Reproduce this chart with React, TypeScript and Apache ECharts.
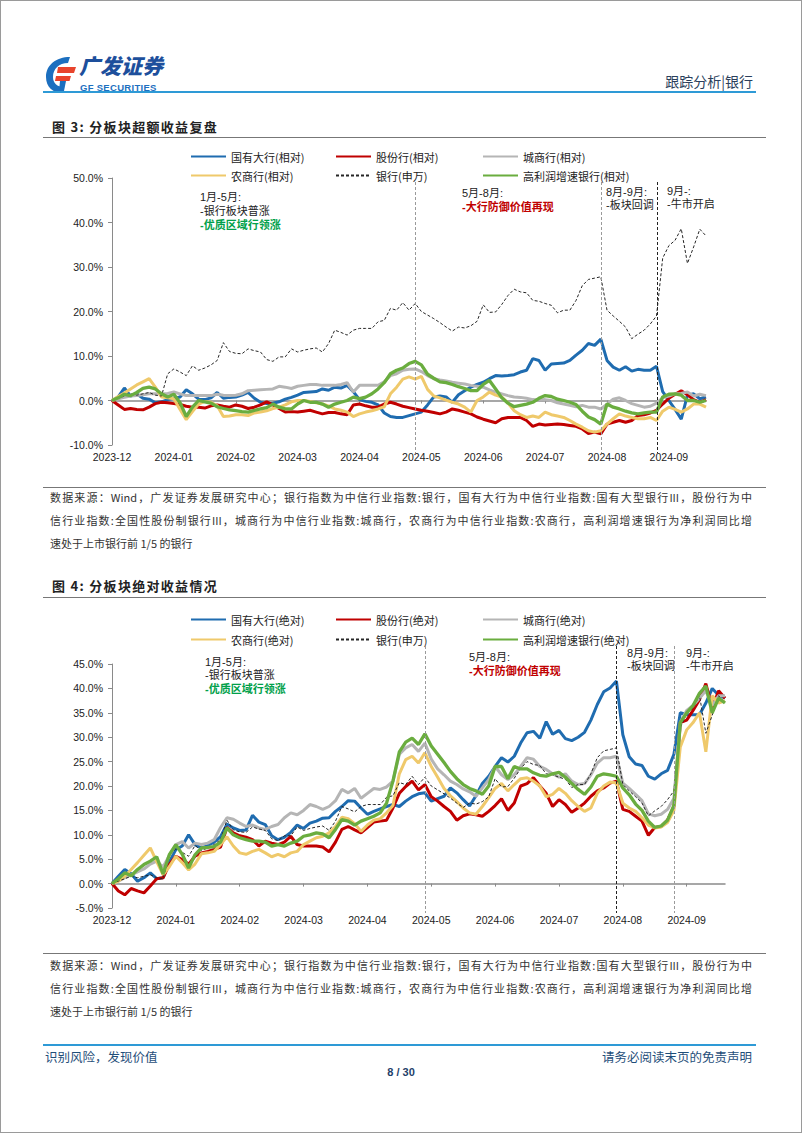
import React, { useEffect, useRef } from "react";
import * as echarts from "echarts";

// ---------------- data ----------------
const monthLabels = ["2023-12", "2024-01", "2024-02", "2024-03", "2024-04", "2024-05", "2024-06", "2024-07", "2024-08", "2024-09"];
const POINTS = 97;
const categoryKeys = Array.from({ length: POINTS }, (_, i) => String(i));

const namesRel = ["国有大行(相对)", "股份行(相对)", "城商行(相对)", "农商行(相对)", "银行(申万)", "高利润增速银行(相对)"];
const namesAbs = ["国有大行(绝对)", "股份行(绝对)", "城商行(绝对)", "农商行(绝对)", "银行(申万)", "高利润增速银行(绝对)"];

const bankIndex = [
  0, 0.5, 1.0, 1.5, 1.2, 1.5, 1.8, 1.2, 1.0, 6.0,
  7.1, 6.4, 5.6, 7.8, 6.8, 7.3, 8.0, 9.0, 13.0, 11.0,
  10.6, 10.5, 11.6, 11.2, 10.9, 9.2, 8.8, 9.8, 9.8, 11.6,
  10.9, 11.3, 11.6, 11.8, 10.9, 12.8, 15.8, 15.3, 14.7, 15.8,
  16.2, 16.2, 16.2, 17.7, 18.0, 20.7, 20.3, 22.0, 20.3, 21.8,
  20.0, 19.2, 18.4, 17.5, 16.5, 15.6, 16.5, 16.3, 16.8, 17.8,
  21.5, 19.8, 19.9, 21.6, 23.6, 25.0, 24.4, 24.2, 22.5, 22.3,
  21.8, 21.4, 19.7, 20.3, 20.3, 22.5, 25.8, 27.2, 27.5, 27.8,
  20.3, 19.0, 17.8, 16.5, 13.9, 14.9, 15.8, 17.2, 19.0, 32.0,
  34.8, 36.0, 38.6, 30.8, 34.5, 38.5, 37.0,
];

// chart 1: relative
const relBig = [
  0, 0.8, 2.8, 1.0, 1.5, 0.5, 0.3, -0.5, -0.3, 0.2,
  0.5, 0.8, 2.4, 1.5, 0.3, 0.2, 0.6, 1.8, 0.5, 0.7,
  0.8, 1.2, 1.8, 0.5, -0.4, -0.7, -0.6, -0.3, 0.3, 0.7,
  1.2, 1.8, 1.9, 2.0, 2.6, 2.3, 3.0, 2.8, 3.4, 2.0,
  0.2, -0.2, -0.4, -1.0, -2.8, -3.6, -3.8, -3.8, -3.4, -3.0,
  -2.6, -1.0, 0.8, 1.0, 0.8, -0.4, 1.3, 2.2, 3.0, 3.6,
  4.1, 4.9, 5.6, 5.5, 5.6, 5.8, 6.4, 6.8, 9.4, 9.0,
  6.8, 8.2, 8.3, 8.4, 9.0, 10.2, 11.3, 12.8, 12.4, 13.8,
  9.0, 7.5, 6.8, 7.6, 6.6, 7.0, 6.8, 6.8, 7.7, 2.0,
  0.0, -2.0, -4.2, 1.2, 1.5, 0.4, 0.8,
];
const relJoint = [
  0, -1.0, -2.0, -1.8, -2.0, -2.1, -1.5, -0.7, -0.4, -0.5,
  -0.7, -0.9, -1.3, -1.5, -1.5, -1.7, -1.2, -1.0, -1.3, -1.5,
  -1.0, -1.3, -1.8, -1.5, -1.0, -0.3, -1.0, -1.8, -2.6, -2.5,
  -2.6, -2.4, -2.2, -2.6, -3.0, -2.7, -2.7, -3.0, -3.2, -1.0,
  -0.8, -1.2, -1.5, -1.5, -0.8, -0.4, -0.8, -1.3, -1.6, -1.9,
  -2.2, -2.4, -2.7, -3.0, -2.6, -1.9, -2.2, -2.6, -3.0, -3.7,
  -4.2, -4.6, -5.0, -4.1, -3.8, -3.8, -3.8, -4.5, -5.8, -5.3,
  -5.5, -5.4, -5.3, -5.4, -5.6, -5.8, -6.4, -7.4, -7.1, -7.5,
  -5.3, -4.9, -4.5, -4.9, -4.5, -3.4, -3.2, -2.8, -2.2, -0.8,
  0.5, 1.4, 2.2, 1.3, 0.2, -0.4, 0.2,
];
const relCity = [
  0, 0.4, 0.7, 1.0, 1.1, 1.3, 1.5, 1.5, 1.5, 1.6,
  1.9, 1.5, 1.1, 1.1, 1.1, 1.1, 1.1, 1.4, 1.2, 1.1,
  1.2, 1.5, 2.2, 2.3, 2.4, 2.5, 2.6, 3.2, 3.0, 2.7,
  3.2, 3.4, 3.6, 3.6, 3.4, 3.4, 3.4, 3.6, 4.0, 1.9,
  3.4, 3.4, 3.4, 3.4, 4.2, 5.6, 6.0, 6.8, 7.0, 7.1,
  6.5, 5.6, 4.9, 4.6, 4.4, 4.1, 3.9, 3.7, 3.4, 3.2,
  3.0, 2.4, 1.9, 1.5, 1.1, 0.8, 0.7, 0.5, 0.2, 0.1,
  0.2, 0.0, -0.5, -0.8, -1.1, -1.4, -1.1, -1.5, -1.5, -1.9,
  -0.8, 0.3, 0.6, 0.0, -0.7, -1.1, -1.5, -1.3, -0.6, 0.6,
  1.0, 1.5, 1.6, 1.9, 1.0, 1.4, 1.1,
];
const relRural = [
  0, 0.9, 1.7, 2.6, 3.5, 4.2, 4.9, 3.0, 0.8, 0.6,
  0.4, -2.0, -4.3, -2.5, -0.8, -0.2, -0.4, -1.2, -3.6, -3.5,
  -3.2, -3.2, -3.4, -2.8, -2.6, -2.3, -1.8, -1.5, -1.0, -0.3,
  0.0, 0.0, -0.2, -0.5, -0.8, -1.2, -1.9, -2.2, -2.6, -3.6,
  -3.0, -2.6, -2.3, -1.9, -1.4, 1.5, 3.0, 4.8, 5.3, 4.8,
  5.4, 2.5, 1.0, 0.6, 0.1, -0.4, -0.8, -1.5, -2.6, 0.0,
  0.8, 1.9, 1.2, 0.8, -0.6, -2.3, -3.2, -3.8, -3.5, -3.8,
  -2.6, -3.2, -3.5, -3.8, -4.5, -5.3, -6.0, -6.8, -7.1, -6.8,
  -5.3, -4.1, -3.0, -3.5, -3.8, -4.1, -4.1, -3.8, -4.5, -2.4,
  -1.5, -2.0, -2.6, -1.9, -0.8, -0.8, -1.5,
];
const relGrowth = [
  0, 0.6, 1.4, 1.1, 1.8, 2.7, 3.0, 2.6, 1.5, 0.8,
  1.4, -0.5, -3.6, -1.5, 0.0, -0.3, -0.6, -1.4, -1.8, -2.1,
  -2.3, -2.5, -2.6, -2.2, -1.9, -1.6, -0.8, -1.5, -1.9, -1.9,
  -0.8, 0.0, -0.4, -0.4, -0.8, -1.5, -0.8, -0.4, 0.0, 0.75,
  0.4, 0.75, 1.5, 2.6, 4.0, 6.0, 6.8, 7.3, 8.3, 8.8,
  8.0, 5.9, 5.0, 4.2, 4.0, 3.6, 3.1, 2.7, 2.2, 2.2,
  3.6, 4.5, 2.6, 0.6, -0.6, -1.4, -1.1, -0.8, -0.4, 0.5,
  1.1, 0.9, 0.3, 0.0, -0.4, -0.9, -2.4, -3.7, -4.3, -5.3,
  -0.8, -1.5, -1.9, -2.4, -2.8, -3.0, -2.8, -2.6, -2.6, 0.8,
  1.4, 1.5, 1.2, 0.0, 0.0, -0.4, 0.0,
];

// chart 2: absolute
const absBig = [
  0, 1.5, 2.9, 2.0, 0.5, 1.2, 2.2, 1.0, 1.2, 4.5,
  7.0, 7.7, 10.0, 8.0, 7.3, 7.8, 8.5, 9.6, 12.2, 11.4,
  10.9, 11.0, 14.0, 12.6, 12.1, 9.8, 9.0, 9.5, 10.5, 12.0,
  11.3, 12.4, 12.8, 13.4, 13.5, 14.8, 15.8, 17.0, 16.9, 15.5,
  14.2, 14.8, 15.3, 15.8, 16.2, 15.8, 16.9, 17.8, 18.4, 18.6,
  16.9, 17.4, 17.9, 19.6, 18.6, 17.2, 15.9, 18.0, 20.5, 22.0,
  24.0, 25.8, 24.9, 26.1, 28.8, 30.9, 31.2, 29.8, 33.2, 30.6,
  31.4, 29.7, 29.3, 30.0, 31.0, 33.5, 36.7, 39.3, 40.1, 41.5,
  30.5, 26.0, 24.5, 24.2, 22.0, 21.4, 22.5, 23.2, 26.5, 35.0,
  34.6, 34.6, 34.6, 37.0, 40.0, 38.6, 38.0,
];
const absJoint = [
  0, -1.5, -2.3, -1.0, -1.5, -1.9, -0.5, 1.0, 1.2, 4.0,
  5.6, 4.9, 4.0, 5.6, 6.3, 6.6, 7.0, 7.5, 11.5, 10.4,
  9.8, 9.5, 9.0, 7.7, 8.7, 8.3, 8.0, 8.5, 9.7, 8.0,
  7.7, 7.7, 7.7, 7.5, 6.5, 8.5, 11.1, 11.7, 11.0, 10.4,
  11.5, 12.6, 12.8, 13.0, 15.5, 18.5, 19.9, 21.0, 19.2, 20.3,
  17.8, 16.9, 15.8, 14.8, 13.0, 13.9, 14.3, 14.1, 13.8, 14.8,
  16.0, 17.4, 15.0, 16.5, 20.0, 20.5, 21.7, 20.0, 18.5, 15.8,
  17.2, 16.2, 14.6, 15.5, 16.5, 17.9, 19.0, 19.6, 20.6, 21.0,
  15.2, 14.8, 13.8, 12.8, 9.9, 11.5, 11.7, 13.0, 15.8, 33.0,
  33.5, 35.5, 37.7, 41.0, 36.0, 39.5, 38.0,
];
const absCity = [
  0, 0.5, 1.2, 1.8, 2.4, 3.0, 4.0, 4.6, 3.4, 5.8,
  8.0, 8.6, 7.3, 8.3, 8.0, 8.3, 9.0, 11.5, 13.5, 13.2,
  12.4, 11.7, 12.0, 11.4, 11.1, 11.7, 12.1, 13.5, 14.5, 14.1,
  15.0, 16.2, 15.8, 15.2, 15.8, 17.0, 19.3, 18.6, 19.5, 17.5,
  18.5, 19.5, 19.3, 19.8, 21.0, 26.5, 27.8, 28.5, 27.1, 28.8,
  25.5, 23.5, 22.3, 21.0, 20.3, 19.4, 18.8, 17.9, 19.6, 21.3,
  24.0, 22.3, 21.3, 22.3, 24.0, 25.8, 25.5, 24.0, 23.4, 22.5,
  21.8, 22.5, 21.0, 20.3, 20.5, 22.3, 24.7, 25.8, 25.8, 26.1,
  20.6, 19.5, 18.3, 17.0, 14.3, 13.9, 14.2, 15.2, 17.5, 33.0,
  35.5, 36.5, 38.0, 39.5, 36.5, 38.5, 38.5,
];
const absRural = [
  0, 0.5, 1.5, 2.9, 4.3, 5.8, 7.3, 4.5, 1.8, 3.5,
  5.6, 4.3, 2.8, 4.0, 6.1, 6.3, 6.6, 8.0, 9.6, 7.7,
  6.3, 6.0, 6.6, 7.0, 6.3, 5.5, 6.0, 5.5, 6.3, 6.6,
  8.0, 8.7, 9.4, 9.7, 10.4, 11.7, 13.6, 13.3, 12.3, 10.7,
  12.0, 13.0, 13.3, 14.5, 16.0, 22.5, 25.4, 26.1, 24.7, 26.8,
  24.0, 21.8, 19.5, 18.0, 16.8, 15.5, 14.5, 14.2, 15.8, 17.6,
  19.5, 20.5, 19.0, 20.3, 21.5, 21.7, 21.0, 20.0, 17.8, 18.3,
  19.5, 18.5, 17.0, 15.8, 14.8, 15.5, 18.5, 20.0, 20.8, 20.6,
  16.5, 15.5, 14.8, 13.5, 12.0, 11.4, 11.6, 12.5, 15.0, 28.0,
  31.5, 33.0, 35.0, 27.0, 38.5, 37.0, 37.5,
];
const absGrowth = [
  0, 1.0, 2.2, 1.6, 2.9, 3.9, 4.6, 5.5, 2.0, 6.0,
  8.0, 6.0, 3.2, 5.9, 7.3, 7.4, 7.6, 8.5, 11.4, 10.0,
  9.4, 9.0, 8.7, 8.7, 8.5, 7.7, 8.0, 7.7, 8.3, 8.7,
  9.7, 10.0, 10.4, 10.2, 9.4, 11.1, 13.1, 12.8, 12.0, 12.8,
  13.3, 13.8, 14.5, 16.5, 21.0, 27.0, 29.0, 29.8, 28.5, 30.7,
  28.2, 26.5, 24.8, 23.0, 21.5, 20.3, 19.5, 19.0, 18.3, 20.0,
  24.0, 24.0, 21.5, 24.0, 23.5, 23.5, 22.7, 22.2, 22.0, 22.5,
  22.8, 21.8, 20.5, 19.3, 18.3, 19.8, 22.0, 22.5, 22.3, 22.0,
  19.6, 18.2, 16.3, 15.0, 12.8, 11.5, 11.8, 13.0, 16.0, 33.0,
  35.0, 36.5, 39.0, 40.5, 35.0, 38.0, 37.0,
];

// phase boundaries (category index)
const phaseMarks1 = [49, 79, 88];
const phaseMarks2 = [49, 79, 88];

// ---------------- styling ----------------
const COL = {
  big: "#1f6cb0",
  joint: "#c00000",
  city: "#b5b5b5",
  rural: "#efc96b",
  bank: "#262626",
  growth: "#6aad3f",
};
const CJK = "'Noto Sans CJK SC', sans-serif";
const NUM = "'Liberation Sans', Arial, 'Noto Sans CJK SC', sans-serif";

type ChartCfg = {
  names: string[];
  data: number[][];
  yMin: number;
  yMax: number;
  yStep: number;
  grid: { left: number; top: number; right: number; bottom: number };
  legendTops: number[];
  legendLefts: number[];
  marks: number[];
  markStyles: { color: string }[];
  markY: [number, number];
  notes: { x: number; y: number; text: string; color: string; bold?: boolean }[];
};

function buildOption(cfg: ChartCfg) {
  const colors = [COL.big, COL.joint, COL.city, COL.rural, COL.bank, COL.growth];
  const series = cfg.names.map((name, k) => {
    const dashed = k === 4;
    return {
      name,
      type: "line",
      data: cfg.data[k],
      xAxisIndex: 0,
      yAxisIndex: 0,
      symbol: "none",
      showSymbol: false,
      smooth: false,
      z: dashed ? 4 : k === 5 ? 5 : 3,
      lineStyle: {
        color: colors[k],
        width: dashed ? 1 : k === 5 ? 3.3 : 3,
        type: dashed ? [3, 2] : "solid",
      },
      itemStyle: { color: colors[k] },
    };
  });
  const legends = cfg.names.map((name, k) => ({
    data: [name],
    left: cfg.legendLefts[k % 3],
    top: cfg.legendTops[Math.floor(k / 3)],
    padding: 0,
    itemWidth: 35,
    itemHeight: 12,
    itemGap: 0,
    selectedMode: false,
    itemStyle: { opacity: 0 },
    textStyle: { fontSize: 11, color: "#222", fontFamily: CJK, padding: [0, 0, 0, 0] },
  }));
  return {
    animation: false,
    legend: legends,
    grid: { ...cfg.grid, containLabel: false },
    xAxis: [
      {
        type: "category",
        data: categoryKeys,
        boundaryGap: false,
        position: "bottom",
        axisLine: { show: true, onZero: true, lineStyle: { color: "#8a8a8a", width: 1.5 } },
        axisTick: { show: true, interval: 9, length: 3, lineStyle: { color: "#8a8a8a" } },
        axisLabel: { show: false },
        splitLine: { show: false },
      },
      {
        type: "category",
        data: categoryKeys,
        boundaryGap: false,
        position: "bottom",
        axisLine: { show: false, onZero: false },
        axisTick: { show: false },
        axisLabel: {
          show: true,
          interval: 9,
          margin: 7,
          fontSize: 10.5,
          color: "#222",
          fontFamily: NUM,
          formatter: (_v: string, idx: number) => (idx % 10 === 0 ? monthLabels[idx / 10] ?? "" : ""),
        },
        splitLine: { show: false },
      },
    ],
    yAxis: {
      type: "value",
      min: cfg.yMin,
      max: cfg.yMax,
      interval: cfg.yStep,
      axisLine: { show: true, lineStyle: { color: "#8a8a8a", width: 1 } },
      axisTick: { show: true, length: 4, lineStyle: { color: "#8a8a8a" } },
      splitLine: { show: false },
      axisLabel: {
        fontSize: 10.5,
        color: "#222",
        fontFamily: NUM,
        margin: 9,
        formatter: (v: number) => v.toFixed(1) + "%",
      },
    },
    series,
  };
}

function ChartBox(props: { cfg: ChartCfg; style: React.CSSProperties }) {
  const ref = useRef<HTMLDivElement | null>(null);
  useEffect(() => {
    if (!ref.current) return;
    const chart = echarts.init(ref.current, undefined, { renderer: "svg" });
    const cfg = props.cfg;
    chart.setOption(buildOption(cfg));
    const graphics: any[] = [];
    cfg.marks.forEach((m, k) => {
      const px = chart.convertToPixel({ gridIndex: 0 } as any, [m, 0]) as number[];
      const x = Math.round(px[0]) + 0.5;
      graphics.push({
        type: "line",
        silent: true,
        z: 10,
        shape: { x1: x, y1: cfg.markY[0], x2: x, y2: cfg.markY[1] },
        style: { stroke: cfg.markStyles[k].color, lineWidth: 1, lineDash: [3, 2] },
      });
    });
    cfg.notes.forEach((n) => {
      graphics.push({
        type: "text",
        x: n.x,
        y: n.y,
        z: 11,
        silent: true,
        style: {
          text: n.text,
          fill: n.color,
          font: `${n.bold ? "bold " : ""}11px ${NUM}`,
          verticalAlign: "middle",
          align: "left",
        },
      });
    });
    chart.setOption({ graphic: graphics });
    return () => chart.dispose();
  }, []);
  return <div ref={ref} style={props.style} />;
}

const chart1Cfg: ChartCfg = {
  names: namesRel,
  data: [relBig, relJoint, relCity, relRural, bankIndex, relGrowth],
  yMin: -10,
  yMax: 50,
  yStep: 10,
  grid: { left: 112, top: 38, right: 96, bottom: 40 },
  legendTops: [11, 30],
  legendLefts: [190, 335, 482],
  marks: phaseMarks1,
  markStyles: [{ color: "#9a9a9a" }, { color: "#9a9a9a" }, { color: "#222" }],
  markY: [42, 313],
  notes: [
    { x: 200, y: 57, text: "1月-5月:", color: "#222" },
    { x: 200, y: 71, text: "-银行板块普涨", color: "#222" },
    { x: 200, y: 85, text: "-优质区域行领涨", color: "#00a04a", bold: true },
    { x: 462, y: 53, text: "5月-8月:", color: "#222" },
    { x: 462, y: 67, text: "-大行防御价值再现", color: "#c00000", bold: true },
    { x: 606, y: 52, text: "8月-9月:", color: "#222" },
    { x: 606, y: 65, text: "-板块回调", color: "#222" },
    { x: 667, y: 51, text: "9月-:", color: "#222" },
    { x: 667, y: 64, text: "-牛市开启", color: "#222" },
  ],
};

const chart2Cfg: ChartCfg = {
  names: namesAbs,
  data: [absBig, absJoint, absCity, absRural, bankIndex, absGrowth],
  yMin: -5,
  yMax: 45,
  yStep: 5,
  grid: { left: 112, top: 64, right: 77, bottom: 42 },
  legendTops: [14, 34],
  legendLefts: [190, 335, 482],
  marks: phaseMarks2,
  markStyles: [{ color: "#9a9a9a" }, { color: "#222" }, { color: "#9a9a9a" }],
  markY: [46, 313],
  notes: [
    { x: 205, y: 62, text: "1月-5月:", color: "#222" },
    { x: 205, y: 75, text: "-银行板块普涨", color: "#222" },
    { x: 205, y: 89, text: "-优质区域行领涨", color: "#00a04a", bold: true },
    { x: 469, y: 57, text: "5月-8月:", color: "#222" },
    { x: 469, y: 71, text: "-大行防御价值再现", color: "#c00000", bold: true },
    { x: 627, y: 53, text: "8月-9月:", color: "#222" },
    { x: 627, y: 66, text: "-板块回调", color: "#222" },
    { x: 686, y: 53, text: "9月-:", color: "#222" },
    { x: 686, y: 66, text: "-牛市开启", color: "#222" },
  ],
};

const sourceLines = [
  "数据来源：Wind，广发证券发展研究中心；银行指数为中信行业指数:银行，国有大行为中信行业指数:国有大型银行III，股份行为中",
  "信行业指数:全国性股份制银行III，城商行为中信行业指数:城商行，农商行为中信行业指数:农商行，高利润增速银行为净利润同比增",
  "速处于上市银行前 1/5 的银行",
];

function SourceBlock(props: { top: number }) {
  return (
    <div style={{ position: "absolute", left: 50, top: props.top, width: 702, fontSize: 11, color: "#333", lineHeight: "23px", fontFamily: CJK }}>
      {sourceLines.map((l, i) => (
        <div key={i} style={{ whiteSpace: "nowrap", textAlign: i < 2 ? "justify" : "left", textAlignLast: i < 2 ? "justify" : "left" } as any}>
          {l}
        </div>
      ))}
    </div>
  );
}

function HLine(props: { top: number; left: number; width: number; color: string; h: number }) {
  return <div style={{ position: "absolute", top: props.top, left: props.left, width: props.width, height: props.h, background: props.color }} />;
}

export default function App() {
  useEffect(() => {
    document.body.style.margin = "0";
  }, []);
  return (
    <div style={{ position: "absolute", left: 0, top: 0, width: 802, height: 1133, background: "#fff", overflow: "hidden", fontFamily: CJK }}>
      {/* page frame */}
      <div style={{ position: "absolute", left: 0, top: 0, width: 800, height: 1131, border: "1px solid #9a9a9a" }} />
      {/* logo */}
      <svg style={{ position: "absolute", left: 44, top: 55 }} width="34" height="40" viewBox="0 0 34 40">
        <path d="M26 2 C12 2 2 10 2 22 C2 32 9 38 18 38 L20 32 C13 32 9 28 9 22 C9 14 15 8 24 8 Z" fill="#1c6fbf" />
        <path d="M14 12 L32 12 L30 18 L13 18 Z" fill="#e8442c" />
        <path d="M12 21 L27 21 L25.5 26 L11 26 Z" fill="#e8442c" />
        <path d="M16 26 L22 26 L20 36 L15 36 Z" fill="#1c6fbf" />
      </svg>
      <div style={{ position: "absolute", left: 79, top: 52, fontSize: 21, lineHeight: "26px", fontWeight: 900, color: "#1d4f9c", fontStyle: "italic" }}>广发证券</div>
      <div style={{ position: "absolute", left: 80, top: 82, fontSize: 9.5, lineHeight: "11px", fontWeight: 700, color: "#1d6fbf", fontFamily: NUM, letterSpacing: 0.3 }}>GF SECURITIES</div>
      <div style={{ position: "absolute", right: 49, top: 71, fontSize: 14, color: "#2b3f5c" }}>跟踪分析|银行</div>
      <HLine top={91} left={43} width={713} color="#2e9ad6" h={2} />

      {/* figure 3 */}
      <div style={{ position: "absolute", left: 52, top: 117, fontSize: 13, fontWeight: 700, color: "#222", letterSpacing: 1.3 }}>图 3:&nbsp;分板块超额收益复盘</div>
      <HLine top={137} left={43} width={723} color="#777" h={1} />
      <ChartBox cfg={chart1Cfg} style={{ position: "absolute", left: 0, top: 140, width: 802, height: 345 }} />
      <HLine top={487} left={43} width={723} color="#777" h={1} />
      <SourceBlock top={486} />

      {/* figure 4 */}
      <div style={{ position: "absolute", left: 52, top: 576, fontSize: 13, fontWeight: 700, color: "#222", letterSpacing: 1.3 }}>图 4:&nbsp;分板块绝对收益情况</div>
      <HLine top={597} left={43} width={723} color="#777" h={1} />
      <ChartBox cfg={chart2Cfg} style={{ position: "absolute", left: 0, top: 600, width: 802, height: 350 }} />
      <HLine top={953} left={43} width={723} color="#777" h={1} />
      <SourceBlock top={954} />

      {/* footer */}
      <HLine top={1044} left={43} width={713} color="#2e9ad6" h={2} />
      <div style={{ position: "absolute", left: 45, top: 1047, fontSize: 12.5, color: "#1f4e79" }}>识别风险，发现价值</div>
      <div style={{ position: "absolute", right: 50, top: 1047, fontSize: 12.5, color: "#1f4e79" }}>请务必阅读末页的免责声明</div>
      <div style={{ position: "absolute", left: 0, width: 802, top: 1066, textAlign: "center", fontSize: 11, fontWeight: 700, color: "#1f3f6a", fontFamily: NUM }}>8 / 30</div>
    </div>
  );
}
